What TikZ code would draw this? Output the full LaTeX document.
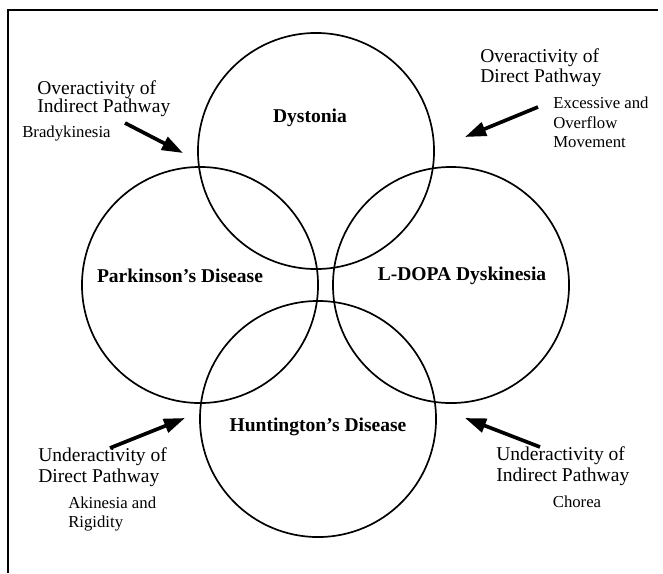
\documentclass[tikz,border=0pt]{standalone}
\usepackage{fontspec}
\setmainfont{Liberation Serif}
\usetikzlibrary{arrows.meta}
\begin{document}
\begin{tikzpicture}[x=0.025cm,y=-0.025cm,
	circ/.style={circle,draw,line width=1.2pt,minimum size=5.9cm,inner sep=0pt},
	big/.style={inner sep=0pt,font=\fontsize{13.9}{16}\selectfont},
	bld/.style={big,font=\fontsize{13.9}{16}\selectfont\bfseries},
	sml/.style={inner sep=0pt,font=\fontsize{11.9}{14}\selectfont},
	arr/.style={line width=2.6pt,-{Triangle[length=15pt,width=10pt]}}]
				\useasboundingbox (0,0) rectangle (663,573);
				\draw[line width=1pt] (658,10)--(8,10)--(8,573);
				\foreach \p/\n in {(316,151)/dys,(200,285)/park,(451,285)/ldopa,(318,419)/hunt}{
					\node[circ] (\n) at \p {};
				};
				\node[bld] (tdys) at (310,118) {Dystonia};
				\node[bld] (tpark) at (180,276) {Parkinson's Disease};
				\node[bld] (tldopa) at (462,276) {L-DOPA Dyskinesia};
				\node[bld] (thunt) at (318,427) {Huntington's Disease};
				% top left
				\node[big,anchor=west] (tl1) at (37,90) {Overactivity of};
				\node[big,anchor=west] (tl2) at (37,108) {Indirect Pathway};
				\node[sml,anchor=west] (tl3) at (22,133) {Bradykinesia};
				\coordinate (a1) at (125,123);\coordinate (b1) at (183,153);
				\draw[arr] (a1)--(b1);
				% top right
				\node[big,anchor=west] (tr1) at (480,58) {Overactivity of};
				\node[big,anchor=west] (tr2) at (480,78) {Direct Pathway};
				\node[sml,anchor=west] (tr3) at (553,103) {Excessive and};
				\node[sml,anchor=west] (tr4) at (553,123) {Overflow};
				\node[sml,anchor=west] (tr5) at (553,142) {Movement};
				\coordinate (a2) at (538,107);\coordinate (b2) at (465,137);
				\draw[arr] (a2)--(b2);
				% bottom left
				\node[big,anchor=west] (bl1) at (38,457) {Underactivity of};
				\node[big,anchor=west] (bl2) at (38,478) {Direct Pathway};
				\node[sml,anchor=west] (bl3) at (68,503) {Akinesia and};
				\node[sml,anchor=west] (bl4) at (68,523) {Rigidity};
				\coordinate (a3) at (110,448);\coordinate (b3) at (185,418);
				\draw[arr] (a3)--(b3);
				% bottom right
				\node[big,anchor=west] (br1) at (496,456) {Underactivity of};
				\node[big,anchor=west] (br2) at (496,477) {Indirect Pathway};
				\node[sml] (br3) at (577,502) {Chorea};
				\coordinate (a4) at (540,447);\coordinate (b4) at (465,418);
				\draw[arr] (a4)--(b4);
			\end{tikzpicture}
\end{document}
